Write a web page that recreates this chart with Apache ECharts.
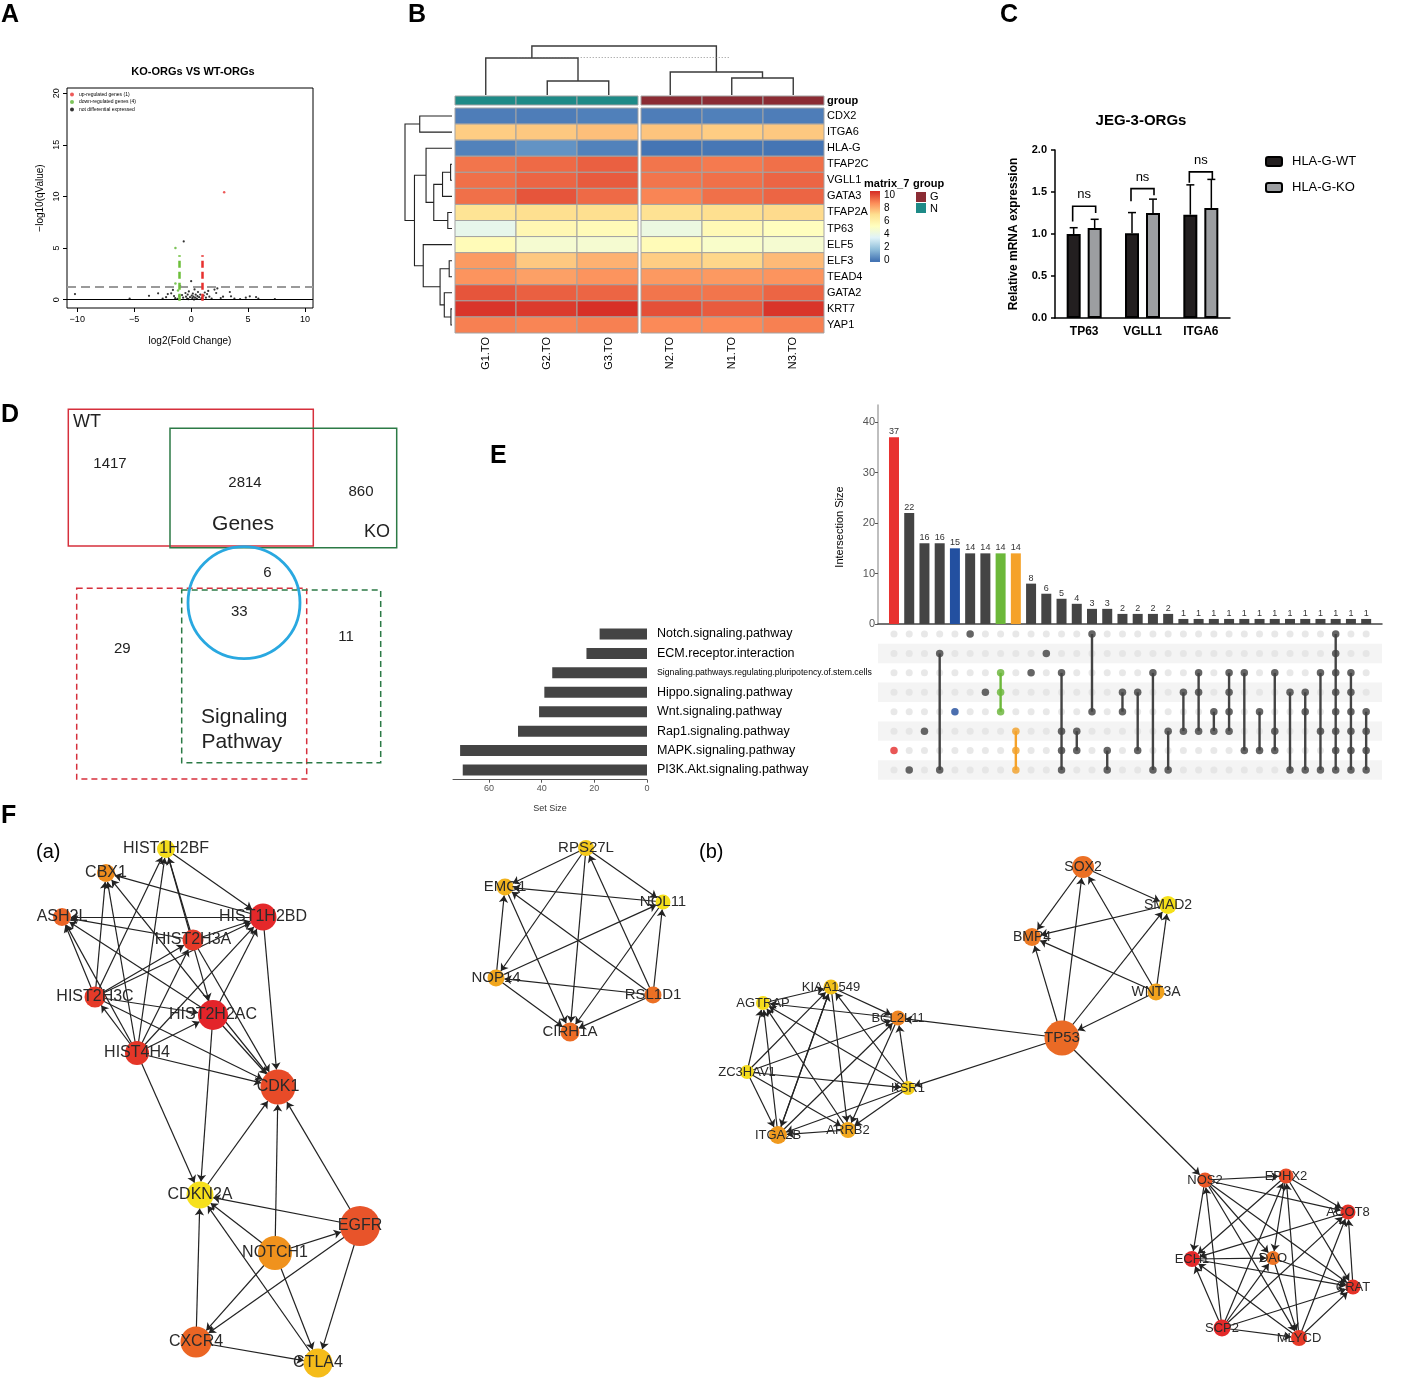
<!DOCTYPE html>
<html>
<head>
<meta charset="utf-8">
<script src="https://cdn.jsdelivr.net/npm/echarts@6.0.0/dist/echarts.min.js"></script>
<style>
html,body{margin:0;padding:0;background:#ffffff;}
#chart{width:1417px;height:1397px;}
</style>
</head>
<body>
<div id="chart"></div>
<script>
// ================= DATA =================
// ---- Panel A: volcano plot ----
const volcanoUp = [[2.9, 10.4]];
const volcanoDown = [[-1.38, 5.0], [-1.38, 1.57], [-1.15, 0.9], [-1.05, 0.35]];
const volcanoNot = [[-10.2,0.55],[-5.4,0.12],[-3.7,0.38],[-2.9,0.62],[-2.2,0.25],[-2.05,0.55],[-1.75,0.62],[-1.6,0.95],[-1.5,0.35],[-1.4,0.15],
  [-0.95,1.3],[-0.8,0.45],[-0.7,0.2],[-0.65,5.65],[-0.5,0.65],[-0.45,0.3],[-0.35,0.1],[-0.3,0.5],[-0.2,0.8],[-0.1,0.25],
  [0,1.8],[0.05,0.4],[0.1,0.15],[0.15,0.6],[0.2,0.3],[0.3,1.0],[0.35,0.2],[0.4,0.5],[0.5,0.1],[0.55,0.35],
  [0.6,0.75],[0.7,0.25],[0.8,0.5],[0.9,0.15],[1.1,0.4],[1.2,0.7],[1.3,0.2],[1.4,0.55],[1.5,0.85],[1.6,0.3],
  [1.8,0.1],[2.05,0.98],[2.2,0.65],[2.3,1.1],[2.6,0.16],[2.8,0.3],[3.4,0.75],[3.5,0.33],[3.8,0.1],[4.3,0.07],
  [4.8,0.2],[5.15,0.33],[5.7,0.26],[5.9,0.1],[7.35,0.07],[-0.25,0.05],[0.25,0.02],[-1.2,0.08],[1.0,0.05],[-2.5,0.1]];
const volcanoTicksX = [-10, -5, 0, 5, 10];
const volcanoTicksY = [0, 5, 10, 15, 20];
const volcanoNames = ['up-regulated genes (1)', 'down-regulated genes (4)', 'not differential expressed'];

// ---- Panel B: heatmap ----
const heatCols = ['G1.TO','G2.TO','G3.TO','N2.TO','N1.TO','N3.TO'];
const heatGroups = ['N','N','N','G','G','G'];
const heatRows = ['CDX2','ITGA6','HLA-G','TFAP2C','VGLL1','GATA3','TFAP2A','TP63','ELF5','ELF3','TEAD4','GATA2','KRT7','YAP1'];
const heatValues = [
  [0.2,0.2,0.25,0.2,0.25,0.2],
  [7.4,7.5,7.7,7.6,7.4,7.5],
  [0.3,0.7,0.3,0.0,0.05,0.0],
  [9.2,9.4,9.6,9.2,9.1,9.3],
  [9.3,9.5,9.7,9.2,9.3,9.5],
  [9.3,9.8,9.4,8.9,9.3,9.5],
  [6.8,7.0,7.0,6.9,7.0,7.1],
  [3.9,5.7,5.5,4.2,5.6,5.3],
  [5.5,4.7,4.7,5.5,4.9,4.7],
  [8.45,7.5,8.0,7.4,7.2,7.8],
  [8.6,8.35,8.6,8.5,8.5,8.6],
  [9.8,9.6,9.5,9.2,9.2,9.5],
  [10.4,10.3,10.5,9.9,9.7,10.4],
  [9.0,8.9,9.0,8.8,8.8,9.0]
];
// merges: [a, b, height]; non-negative = leaf index, negative -(k+1) = merge k
const colMerges = [[1,2,14],[0,-1,37],[4,5,17],[3,-3,23],[-2,-4,49]];
const rowMerges = [[0,1,92],[3,4,4],[-2,5,27],[6,7,12],[-3,-4,52],[2,-5,74],[9,10,8],[12,13,3],[11,-8,22],[-7,-9,34],[8,-10,82],[-6,-11,107],[-1,-12,134]];
const colorbarTicks = [0,2,4,6,8,10];
const groupLegend = ['G','N'];

// ---- Panel C: qPCR ----
const qpcrGenes = ['TP63','VGLL1','ITGA6'];
const wtMean = [1.00, 1.01, 1.23];
const wtSd = [0.075, 0.245, 0.355];
const koMean = [1.07, 1.25, 1.31];
const koSd = [0.105, 0.165, 0.34];
const nsBrackets = [[0,1.15,1.25,1.33],[1,1.39,1.46,1.54],[2,1.61,1.65,1.74]];
const nsLabels = ['ns','ns','ns'];

// ---- Panel D: Venn counts ----
const vennCounts = { wtOnly: '1417', both: '2814', koOnly: '860', circleTop: '6', circleMid: '33', wtPath: '29', koPath: '11' };

// ---- Panel E: UpSet ----
const setNames = ['Notch.signaling.pathway','ECM.receptor.interaction','Signaling.pathways.regulating.pluripotency.of.stem.cells','Hippo.signaling.pathway','Wnt.signaling.pathway','Rap1.signaling.pathway','MAPK.signaling.pathway','PI3K.Akt.signaling.pathway'];
const setSizes = [18, 23, 36, 39, 41, 49, 71, 70];
const interSizes = [37,22,16,16,15,14,14,14,14,8,6,5,4,3,3,2,2,2,2,1,1,1,1,1,1,1,1,1,1,1,1,1];
const interSets = [[6],[7],[5],[1,7],[4],[0],[3],[2,3,4],[5,6,7],[2],[1],[2,5,6,7],[5,6],[0,4],[6,7],[3,4],[3,6],[2,7],[5,7],[3,5],[2,3,5],[4,5],[2,3,4,5],[2,6],[4,6],[2,5,6],[3,7],[3,4,7],[2,5,7],[0,1,2,3,4,5,6,7],[2,3,4,5,6,7],[4,5,6,7]];
const interTicks = [0,10,20,30,40];
const setTicks = [0,20,40,60];

// ---- Panel F: networks ----
const netNodes = ['HIST1H2BF','CBX1','ASH2L','HIST1H2BD','HIST2H3A','HIST2H3C','HIST2H2AC','HIST4H4','CDK1','CDKN2A','EGFR','NOTCH1','CXCR4','CTLA4',
  'RPS27L','EMG1','NOL11','NOP14','RSL1D1','CIRH1A',
  'SOX2','SMAD2','BMP4','WNT3A','TP53','KIAA1549','AGTRAP','BCL2L11','ZC3HAV1','KSR1','ITGA2B','ARRB2',
  'NOS2','EPHX2','ACOT8','ECH1','DAO','CRAT','SCP2','MLYCD'];
const netEdges = [
  ['HIST1H2BF','HIST1H2BD'],['HIST1H2BD','CBX1'],['HIST1H2BD','ASH2L'],['HIST1H2BD','CDK1'],['HIST2H3A','HIST1H2BD'],['HIST2H3A','ASH2L'],
  ['HIST2H3A','HIST1H2BF'],['HIST1H2BF','HIST2H2AC'],['HIST2H3A','CDK1'],['HIST2H3C','HIST1H2BF'],['HIST2H3C','CBX1'],['HIST2H3C','ASH2L'],
  ['HIST2H3C','HIST2H3A'],['HIST2H3C','HIST1H2BD'],['HIST2H3C','HIST2H2AC'],['HIST2H3C','CDK1'],['HIST4H4','HIST2H3C'],['HIST4H4','ASH2L'],
  ['HIST4H4','CBX1'],['HIST4H4','HIST1H2BF'],['HIST4H4','HIST2H3A'],['HIST4H4','HIST2H2AC'],['HIST4H4','HIST1H2BD'],['HIST4H4','CDK1'],
  ['HIST4H4','CDKN2A'],['HIST2H2AC','HIST1H2BD'],['HIST2H2AC','CDK1'],['HIST2H2AC','CDKN2A'],['HIST2H2AC','ASH2L'],['CDK1','CBX1'],
  ['CDKN2A','CDK1'],['NOTCH1','CDK1'],['EGFR','CDK1'],['EGFR','CDKN2A'],['NOTCH1','CDKN2A'],['NOTCH1','EGFR'],['NOTCH1','CXCR4'],
  ['EGFR','CXCR4'],['NOTCH1','CTLA4'],['EGFR','CTLA4'],['CTLA4','CDKN2A'],['CXCR4','CDKN2A'],['CXCR4','CTLA4'],
  ['RPS27L','EMG1'],['RPS27L','NOL11'],['RPS27L','NOP14'],['RPS27L','CIRH1A'],['NOL11','EMG1'],['NOL11','CIRH1A'],['NOP14','NOL11'],
  ['NOP14','EMG1'],['NOP14','CIRH1A'],['RSL1D1','NOP14'],['RSL1D1','EMG1'],['RSL1D1','RPS27L'],['RSL1D1','NOL11'],['RSL1D1','CIRH1A'],['EMG1','CIRH1A'],
  ['SOX2','BMP4'],['SOX2','SMAD2'],['SMAD2','BMP4'],['TP53','BMP4'],['TP53','SOX2'],['TP53','SMAD2'],['WNT3A','SOX2'],['WNT3A','SMAD2'],
  ['WNT3A','BMP4'],['WNT3A','TP53'],['TP53','BCL2L11'],['TP53','KSR1'],['TP53','NOS2'],
  ['AGTRAP','KIAA1549'],['KIAA1549','BCL2L11'],['BCL2L11','AGTRAP'],['ZC3HAV1','AGTRAP'],['ZC3HAV1','KIAA1549'],['ZC3HAV1','BCL2L11'],
  ['ZC3HAV1','ITGA2B'],['ZC3HAV1','ARRB2'],['ZC3HAV1','KSR1'],['KSR1','AGTRAP'],['KSR1','KIAA1549'],['KSR1','BCL2L11'],['KSR1','ARRB2'],
  ['KSR1','ITGA2B'],['ITGA2B','AGTRAP'],['ITGA2B','KIAA1549'],['ITGA2B','BCL2L11'],['ARRB2','ITGA2B'],['ARRB2','AGTRAP'],
  ['KIAA1549','ITGA2B'],['KIAA1549','ARRB2'],['BCL2L11','ARRB2'],
  ['NOS2','EPHX2'],['NOS2','ACOT8'],['NOS2','ECH1'],['NOS2','DAO'],['NOS2','CRAT'],['NOS2','MLYCD'],['EPHX2','ACOT8'],['EPHX2','ECH1'],
  ['EPHX2','DAO'],['EPHX2','CRAT'],['ACOT8','ECH1'],['ECH1','DAO'],['ECH1','CRAT'],['DAO','MLYCD'],['DAO','CRAT'],['SCP2','NOS2'],
  ['SCP2','ECH1'],['SCP2','EPHX2'],['SCP2','DAO'],['SCP2','ACOT8'],['SCP2','CRAT'],['SCP2','MLYCD'],['MLYCD','ECH1'],['MLYCD','ACOT8'],
  ['MLYCD','CRAT'],['MLYCD','EPHX2'],['CRAT','ACOT8']
];

// ================= LAYOUT / STYLE =================
const FONT = 'Liberation Sans';
// node layout: [x, y, diameter, color, labelSize]
const netLayout = {
  'HIST1H2BF':[166,849,18,'#f4dc1c',16],'CBX1':[106,873,18,'#ef8c1e',16],'ASH2L':[62,917,18,'#ec6425',16],
  'HIST1H2BD':[263,917,27,'#e4282a',16],'HIST2H3A':[193,940,21,'#e53a28',16],'HIST2H3C':[95,997,21,'#e53a28',16],
  'HIST2H2AC':[213,1015,30,'#e3242a',16],'HIST4H4':[137,1053,24,'#e53628',16],'CDK1':[278,1087,35,'#e84b28',16],
  'CDKN2A':[200,1195,27,'#f6e01b',16],'EGFR':[360,1226,40,'#e8542a',16],'NOTCH1':[275,1253,34,'#f0921d',16],
  'CXCR4':[196,1342,31,'#eb6524',16],'CTLA4':[318,1363,29,'#f5bc1a',16],
  'RPS27L':[586,848,16,'#f4c81b',15],'EMG1':[505,887,17,'#f2b31d',15],'NOL11':[663,902,15,'#f5df1b',15],
  'NOP14':[496,978,17,'#f1a61d',15],'RSL1D1':[653,995,17,'#ec7024',15],'CIRH1A':[570,1032,19,'#ec6c24',15],
  'SOX2':[1083,867,22,'#ec7024',14],'SMAD2':[1168,905,18,'#f5e01a',14],'BMP4':[1032,937,18,'#ec7a24',14],
  'WNT3A':[1156,992,17,'#f0a21d',14],'TP53':[1062,1038,35,'#ea6a25',15],'KIAA1549':[831,987,15,'#f3c21b',13],
  'AGTRAP':[763,1003,14,'#f5dc1b',13],'BCL2L11':[898,1018,15,'#ee8423',13],'ZC3HAV1':[747,1072,14,'#f5dc1b',13],
  'KSR1':[908,1088,14,'#f5d01b',13],'ITGA2B':[778,1135,18,'#f09a1e',13],'ARRB2':[848,1130,16,'#f2a81d',13],
  'NOS2':[1205,1180,15,'#eb5826',13],'EPHX2':[1286,1176,15,'#ea4c27',13],'ACOT8':[1348,1212,15,'#e53227',13],
  'ECH1':[1192,1259,16,'#e4282a',13],'DAO':[1273,1258,14,'#ee7424',13],'CRAT':[1353,1287,15,'#e53227',13],
  'SCP2':[1222,1328,17,'#e42a2a',13],'MLYCD':[1299,1338,16,'#e73a28',13]
};
const heatPalette = ['#4575B4','#91BFDB','#E0F3F8','#FFFFBF','#FEE090','#FC8D59','#D73027'];
const groupColors = { G: '#8b2c34', N: '#1e8a87' };
const upsetHighlight = { 0: '#e8312f', 4: '#2350a0', 7: '#6cb83a', 8: '#f5a229' };

// ================= BUILD =================
const chart = echarts.init(document.getElementById('chart'), null, { renderer: 'canvas', width: 1417, height: 1397 });

function buildDendro(merges) {
  const pos = [], ht = [], segs = [];
  merges.forEach(([a, b, h], k) => {
    const pa = a >= 0 ? a : pos[-a - 1], ha = a >= 0 ? 0 : ht[-a - 1];
    const pb = b >= 0 ? b : pos[-b - 1], hb = b >= 0 ? 0 : ht[-b - 1];
    segs.push([pa, ha, pb, hb, h]);
    pos[k] = (pa + pb) / 2; ht[k] = h;
  });
  return segs;
}
const colSegs = buildDendro(colMerges);
const rowSegs = buildDendro(rowMerges);

const heatData = [];
heatValues.forEach((row, r) => row.forEach((v, c) => heatData.push([c, r, v])));

function cellRect(api, c, r) {
  const p = api.coord([c, r]); const s = api.size([1, 1]);
  const gap = 3, n = heatCols.length;
  const w = (s[0] * n - gap) / n;
  const left0 = p[0] - s[0] * (c + 0.5);
  const x0 = left0 + c * w + (c >= 3 ? gap : 0);
  return { x: x0, y: p[1] - s[1] / 2, width: w, height: s[1] };
}

const fmtMinus = v => String(v).replace('-', '\u2212');
const noZero = { onZero: false };

const grids = [
  { left: 67, top: 88, width: 246, height: 220, show: true, borderColor: '#000', borderWidth: 1 }, // 0 A
  { left: 455, top: 108, width: 369, height: 225 },   // 1 heatmap
  { left: 455, top: 96, width: 369, height: 9 },      // 2 group bar
  { left: 455, top: 46, width: 369, height: 49 },     // 3 col dendro
  { left: 405, top: 108, width: 47, height: 225 },    // 4 row dendro
  { left: 870, top: 191, width: 10, height: 71 },     // 5 colorbar
  { left: 1055, top: 150, width: 175, height: 168 },  // 6 C
  { left: 878, top: 405, width: 504, height: 219 },   // 7 E intersections
  { left: 878, top: 624.3, width: 504, height: 155.4 }, // 8 E matrix
  { left: 453, top: 624.3, width: 194, height: 155.4 }, // 9 E set sizes
  { left: 0, top: 0, width: 1417, height: 1397 }      // 10 F networks
];

const hidden = (gi, extra) => Object.assign({ gridIndex: gi, show: false, axisLine: { onZero: false } }, extra);

const xAxes = [
  { gridIndex: 0, type: 'value', min: -10.9, max: 10.7, axisLine: { show: false, onZero: false }, splitLine: { show: false },
    axisTick: { show: true, customValues: volcanoTicksX, length: 4, lineStyle: { color: '#000' } },
    axisLabel: { customValues: volcanoTicksX, fontSize: 9, color: '#000', margin: 7, formatter: fmtMinus },
    name: 'log2(Fold Change)', nameLocation: 'middle', nameGap: 28, nameTextStyle: { fontSize: 10, color: '#000' } },
  { gridIndex: 1, type: 'category', data: heatCols, axisLine: { show: false }, axisTick: { show: false },
    axisLabel: { rotate: 90, fontSize: 11, color: '#000', margin: 4 } },
  hidden(2, { type: 'category', data: heatCols }),
  hidden(3, { type: 'value', min: -0.5, max: 5.5 }),
  hidden(4, { type: 'value', min: 0, max: 134, inverse: true }),
  hidden(5, { type: 'value', min: 0, max: 1 }),
  { gridIndex: 6, type: 'category', data: qpcrGenes, axisLine: { lineStyle: { color: '#000', width: 1.5 } },
    axisTick: { alignWithLabel: true, length: 4, lineStyle: { color: '#000', width: 1.5 } },
    axisLabel: { fontSize: 12, fontWeight: 'bold', color: '#000', margin: 8 } },
  { gridIndex: 7, type: 'value', min: -1.05, max: 32.04, axisLine: { show: true, onZero: false, lineStyle: { color: '#444', width: 1.5 } },
    axisTick: { show: false }, axisLabel: { show: false }, splitLine: { show: false } },
  hidden(8, { type: 'value', min: -1.05, max: 32.04 }),
  { gridIndex: 9, type: 'value', min: 0, max: 73.7, inverse: true, axisLine: { show: true, onZero: false, lineStyle: { color: '#555', width: 1 } },
    axisTick: { show: true, customValues: setTicks, length: 3, lineStyle: { color: '#555' } },
    axisLabel: { customValues: setTicks, fontSize: 9, color: '#555', margin: 4 }, splitLine: { show: false },
    name: 'Set Size', nameLocation: 'middle', nameGap: 24, nameTextStyle: { fontSize: 9, color: '#333' } },
  hidden(10, { type: 'value', min: 0, max: 1417 })
];

const yAxes = [
  { gridIndex: 0, type: 'value', min: -0.8, max: 20.5, axisLine: { show: false, onZero: false }, splitLine: { show: false },
    axisTick: { show: true, customValues: volcanoTicksY, length: 4, lineStyle: { color: '#000' } },
    axisLabel: { customValues: volcanoTicksY, fontSize: 9, color: '#000', rotate: 90, margin: 6 },
    name: '\u2212log10(qValue)', nameLocation: 'middle', nameGap: 22, nameTextStyle: { fontSize: 10, color: '#000' } },
  { gridIndex: 1, type: 'category', data: heatRows, inverse: true, position: 'right', axisLine: { show: false }, axisTick: { show: false },
    axisLabel: { fontSize: 11, color: '#000', margin: 3 } },
  { gridIndex: 2, type: 'category', data: ['group'], position: 'right', axisLine: { show: false }, axisTick: { show: false },
    axisLabel: { fontSize: 11, fontWeight: 'bold', color: '#000', margin: 3 } },
  hidden(3, { type: 'value', min: 0, max: 49 }),
  hidden(4, { type: 'value', min: -0.5, max: heatRows.length - 0.5, inverse: true }),
  { gridIndex: 5, type: 'value', min: -0.2, max: 10.6, position: 'right', axisLine: { show: false, onZero: false }, splitLine: { show: false },
    axisTick: { show: true, inside: true, customValues: colorbarTicks, length: 3, lineStyle: { color: '#fff', width: 1 } },
    axisLabel: { customValues: colorbarTicks, fontSize: 10, color: '#000', margin: 4 } },
  { gridIndex: 6, type: 'value', min: 0, max: 2, interval: 0.5, axisLine: { show: true, onZero: false, lineStyle: { color: '#000', width: 1.5 } },
    axisTick: { show: true, length: 4, lineStyle: { color: '#000', width: 1.5 } }, splitLine: { show: false },
    axisLabel: { fontSize: 11, fontWeight: 'bold', color: '#000', formatter: v => v.toFixed(1) },
    name: 'Relative mRNA expression', nameLocation: 'middle', nameGap: 35, nameTextStyle: { fontSize: 12, fontWeight: 'bold', color: '#000' } },
  { gridIndex: 7, type: 'value', min: 0, max: 43.4, axisLine: { show: true, onZero: false, lineStyle: { color: '#aaa', width: 1.5 } }, splitLine: { show: false },
    axisTick: { show: true, customValues: interTicks, length: 3, lineStyle: { color: '#555' } },
    axisLabel: { customValues: interTicks, fontSize: 11, color: '#555', margin: 3 } },
  hidden(8, { type: 'value', min: -0.5, max: 7.5, inverse: true }),
  { gridIndex: 9, type: 'category', data: setNames, inverse: true, position: 'right', axisLine: { show: false }, axisTick: { show: false },
    axisLabel: { fontSize: 12.5, color: '#000', margin: 10, align: 'left',
      formatter: (v, i) => (i === 2 ? '{s|' + v + '}' : v), rich: { s: { fontSize: 8.7, color: '#000', fontFamily: FONT } } } },
  hidden(10, { type: 'value', min: 0, max: 1397, inverse: true })
];

const series = [];
// ---- A
series.push({ name: volcanoNames[2], type: 'scatter', xAxisIndex: 0, yAxisIndex: 0, data: volcanoNot, symbolSize: 2.2,
  itemStyle: { color: '#000' }, z: 3,
  markLine: { silent: true, symbol: 'none', label: { show: false }, animation: false,
    data: [
      { yAxis: 0, lineStyle: { type: 'solid', color: '#000', width: 1 } },
      { yAxis: 1.3, lineStyle: { type: [9, 5], color: '#9a9a9a', width: 2.2 } },
      [{ coord: [-1, -0.1], lineStyle: { type: [7, 4], color: '#6cbf3a', width: 2.5 } }, { coord: [-1, 4.3] }],
      [{ coord: [1, -0.1], lineStyle: { type: [7, 4], color: '#e8312f', width: 2.5 } }, { coord: [1, 4.3] }]
    ] } });
series.push({ name: volcanoNames[1], type: 'scatter', xAxisIndex: 0, yAxisIndex: 0, data: volcanoDown, symbolSize: 2.5, itemStyle: { color: '#5cb531' }, z: 4 });
series.push({ name: volcanoNames[0], type: 'scatter', xAxisIndex: 0, yAxisIndex: 0, data: volcanoUp, symbolSize: 2.5, itemStyle: { color: '#e8312f' }, z: 4 });

// ---- B heatmap
const heatSeriesIndex = series.length;
series.push({ type: 'custom', xAxisIndex: 1, yAxisIndex: 1, data: heatData,
  renderItem: (p, api) => ({ type: 'rect', shape: cellRect(api, api.value(0), api.value(1)),
    style: { fill: api.visual('color'), stroke: '#a3a3a3', lineWidth: 1 } }) });
series.push({ type: 'custom', xAxisIndex: 2, yAxisIndex: 2, data: heatGroups.map((g, c) => [c, 0, g]),
  renderItem: (p, api) => ({ type: 'rect', shape: cellRect(api, api.value(0), 0),
    style: { fill: groupColors[heatGroups[api.value(0)]], stroke: '#a3a3a3', lineWidth: 1 } }) });
series.push({ type: 'custom', xAxisIndex: 3, yAxisIndex: 3, data: colSegs,
  renderItem: (p, api) => {
    const x1 = api.value(0), h1 = api.value(1), x2 = api.value(2), h2 = api.value(3), h = api.value(4);
    return { type: 'polyline', shape: { points: [api.coord([x1, h1]), api.coord([x1, h]), api.coord([x2, h]), api.coord([x2, h2])] },
      style: { stroke: '#3a3a3a', lineWidth: 1.4, fill: 'none' } };
  },
  markLine: { silent: true, symbol: 'none', label: { show: false }, lineStyle: { type: [1, 2], color: '#777', width: 0.8 },
    data: [[{ coord: [0.52, 38] }, { coord: [3.97, 38] }]] } });
series.push({ type: 'custom', xAxisIndex: 4, yAxisIndex: 4, data: rowSegs,
  renderItem: (p, api) => {
    const y1 = api.value(0), h1 = api.value(1), y2 = api.value(2), h2 = api.value(3), h = api.value(4);
    return { type: 'polyline', shape: { points: [api.coord([h1, y1]), api.coord([h, y1]), api.coord([h, y2]), api.coord([h2, y2])] },
      style: { stroke: '#222', lineWidth: 1.1, fill: 'none' } };
  } });
series.push({ type: 'custom', xAxisIndex: 5, yAxisIndex: 5, data: [[0, 0]],
  renderItem: (p, api) => {
    const lo = -0.2, hi = 10.6, vmax = 10.5;
    const tl = api.coord([0, hi]), br = api.coord([1, lo]);
    const stops = heatPalette.map((c, i) => ({ offset: Math.min(1, (i * vmax / 6 - lo) / (hi - lo)), color: c }));
    stops.unshift({ offset: 0, color: heatPalette[0] });
    return { type: 'rect', shape: { x: tl[0], y: tl[1], width: br[0] - tl[0], height: br[1] - tl[1] },
      style: { fill: new echarts.graphic.LinearGradient(0, 1, 0, 0, stops) } };
  } });

// ---- C
series.push({ name: 'HLA-G-WT', type: 'bar', xAxisIndex: 6, yAxisIndex: 6, data: wtMean, barWidth: 14, barGap: '50%',
  itemStyle: { color: '#231f20', borderColor: '#000', borderWidth: 2 } });
series.push({ name: 'HLA-G-KO', type: 'bar', xAxisIndex: 6, yAxisIndex: 6, data: koMean, barWidth: 14, barGap: '50%',
  itemStyle: { color: '#9c9ea1', borderColor: '#000', borderWidth: 2 } });
const errData = [];
qpcrGenes.forEach((g, c) => { errData.push([c, wtMean[c], wtSd[c], -1]); errData.push([c, koMean[c], koSd[c], 1]); });
series.push({ type: 'custom', xAxisIndex: 6, yAxisIndex: 6, data: errData, z: 3,
  renderItem: (p, api) => {
    const c = api.value(0), m = api.value(1), sd = api.value(2), side = api.value(3);
    const a = api.coord([c, m]), b = api.coord([c, m + sd]); const x = a[0] + side * 10.5;
    return { type: 'group', children: [
      { type: 'line', shape: { x1: x, y1: a[1], x2: x, y2: b[1] }, style: { stroke: '#000', lineWidth: 1.5 } },
      { type: 'line', shape: { x1: x - 4, y1: b[1], x2: x + 4, y2: b[1] }, style: { stroke: '#000', lineWidth: 1.5 } } ] };
  } });
series.push({ type: 'custom', xAxisIndex: 6, yAxisIndex: 6, data: nsBrackets, z: 3,
  renderItem: (p, api) => {
    const c = api.value(0), lb = api.value(1), rb = api.value(2), top = api.value(3);
    const t = api.coord([c, top]), l = api.coord([c, lb]), r = api.coord([c, rb]); const hw = 11.5;
    return { type: 'group', children: [
      { type: 'polyline', shape: { points: [[t[0] - hw, l[1]], [t[0] - hw, t[1]], [t[0] + hw, t[1]], [t[0] + hw, r[1]]] },
        style: { stroke: '#000', lineWidth: 1.6, fill: 'none' } },
      { type: 'text', style: { text: nsLabels[p.dataIndex], x: t[0], y: t[1] - 5, align: 'center', verticalAlign: 'bottom',
        fontSize: 13, fontFamily: FONT, fill: '#000' } } ] };
  } });

// ---- E
const colColor = i => upsetHighlight[i] || '#444444';
series.push({ type: 'bar', xAxisIndex: 7, yAxisIndex: 7, barWidth: 10,
  data: interSizes.map((v, i) => ({ value: [i, v], itemStyle: { color: colColor(i) } })),
  label: { show: true, position: 'top', fontSize: 9, color: '#333', distance: 1, formatter: p => p.value[1] } });
const bgDots = [];
interSizes.forEach((v, i) => { setNames.forEach((s, r) => bgDots.push([i, r])); });
series.push({ type: 'scatter', xAxisIndex: 8, yAxisIndex: 8, data: bgDots, symbolSize: 7, itemStyle: { color: '#e2e2e2' }, z: 2,
  markArea: { silent: true, itemStyle: { color: '#f4f4f4' },
    data: [[{ yAxis: 0.5 }, { yAxis: 1.5 }], [{ yAxis: 2.5 }, { yAxis: 3.5 }], [{ yAxis: 4.5 }, { yAxis: 5.5 }], [{ yAxis: 6.5 }, { yAxis: 7.5 }]] } });
series.push({ type: 'custom', xAxisIndex: 8, yAxisIndex: 8, z: 3,
  data: interSets.map((s, i) => [i, Math.min(...s), Math.max(...s)]),
  renderItem: (p, api) => {
    const a = api.coord([api.value(0), api.value(1)]), b = api.coord([api.value(0), api.value(2)]);
    return { type: 'line', shape: { x1: a[0], y1: a[1], x2: b[0], y2: b[1] }, style: { stroke: colColor(api.value(0)), lineWidth: 2.4 } };
  } });
const activeDots = [];
interSets.forEach((s, i) => s.forEach(r => activeDots.push({ value: [i, r], itemStyle: { color: colColor(i) } })));
series.push({ type: 'scatter', xAxisIndex: 8, yAxisIndex: 8, data: activeDots, symbolSize: 7.5, z: 4 });
series.push({ type: 'bar', xAxisIndex: 9, yAxisIndex: 9, data: setSizes, barWidth: 11, itemStyle: { color: '#444' } });

// ---- F networks
series.push({ type: 'graph', layout: 'none', coordinateSystem: 'cartesian2d', xAxisIndex: 10, yAxisIndex: 10,
  edgeSymbol: ['none', 'arrow'], edgeSymbolSize: 7,
  lineStyle: { color: '#222', width: 1.2, opacity: 1, curveness: 0 },
  label: { show: true, position: 'inside', color: '#2a2a2a', fontFamily: FONT },
  data: netNodes.map(n => ({ name: n, value: [netLayout[n][0], netLayout[n][1]], symbolSize: netLayout[n][2],
    itemStyle: { color: netLayout[n][3] }, label: { fontSize: netLayout[n][4] } })),
  links: netEdges.map(([s, t]) => ({ source: s, target: t })), z: 5 });

// ---- graphics (panel letters, Venn, legends text)
const g = [];
function txt(x, y, text, size, o = {}) {
  g.push({ type: 'text', x, y, rotation: o.rot || 0, z: 20,
    style: { text, fontSize: size, fontWeight: o.bold ? 'bold' : 'normal', fontFamily: FONT, fill: o.color || '#000',
      align: o.align || 'left', verticalAlign: 'middle' } });
}
txt(1, 15, 'A', 25, { bold: true }); txt(408, 15, 'B', 25, { bold: true }); txt(1000, 15, 'C', 25, { bold: true });
txt(1, 415, 'D', 25, { bold: true }); txt(490, 456, 'E', 25, { bold: true }); txt(1, 816, 'F', 25, { bold: true });
txt(193, 72, 'KO-ORGs VS WT-ORGs', 11, { bold: true, align: 'center' });
txt(1141, 121, 'JEG-3-ORGs', 15, { bold: true, align: 'center' });
txt(864, 184, 'matrix_7', 11, { bold: true }); txt(913, 184, 'group', 11, { bold: true });
groupLegend.forEach((k, i) => {
  g.push({ type: 'rect', shape: { x: 916, y: 192 + i * 11, width: 10, height: 10 }, style: { fill: groupColors[k] }, z: 20 });
  txt(930, 197 + i * 11.5, k, 11);
});
txt(840, 527, 'Intersection Size', 11, { align: 'center', rot: Math.PI / 2 });
txt(36, 852, '(a)', 20); txt(699, 852, '(b)', 20);
// Venn panel D
const rect = (x, y, w, h, col, dash) => g.push({ type: 'rect', shape: { x, y, width: w, height: h }, z: 15,
  style: { fill: 'none', stroke: col, lineWidth: 1.5, lineDash: dash || null } });
rect(68.3, 409.3, 245, 136.7, '#d6303c');
rect(170, 428.3, 226.7, 119.4, '#2c7a46');
rect(76.7, 588.3, 230, 190.7, '#d6303c', [6, 4]);
rect(181.7, 590, 199, 172.7, '#2c7a46', [6, 4]);
g.push({ type: 'circle', shape: { cx: 244, cy: 602.7, r: 56 }, z: 16, style: { fill: 'none', stroke: '#29a8e0', lineWidth: 2.8 } });
txt(87, 422, 'WT', 18, { align: 'center', color: '#222' });
txt(110, 464.3, vennCounts.wtOnly, 15, { align: 'center', color: '#222' });
txt(245, 482.7, vennCounts.both, 15, { align: 'center', color: '#222' });
txt(361, 491.7, vennCounts.koOnly, 15, { align: 'center', color: '#222' });
txt(243, 524, 'Genes', 21, { align: 'center', color: '#222' });
txt(377, 532, 'KO', 18, { align: 'center', color: '#222' });
txt(267.3, 573.3, vennCounts.circleTop, 15, { align: 'center', color: '#222' });
txt(239.3, 611.7, vennCounts.circleMid, 15, { align: 'center', color: '#222' });
txt(122.3, 649.3, vennCounts.wtPath, 15, { align: 'center', color: '#222' });
txt(346, 637.3, vennCounts.koPath, 15, { align: 'center', color: '#222' });
txt(244.3, 717.3, 'Signaling', 21, { align: 'center', color: '#222' });
txt(241.7, 742.3, 'Pathway', 21, { align: 'center', color: '#222' });

const option = {
  animation: false,
  backgroundColor: '#ffffff',
  textStyle: { fontFamily: FONT },
  grid: grids,
  xAxis: xAxes,
  yAxis: yAxes,
  visualMap: [{ type: 'continuous', show: false, min: 0, max: 10.5, dimension: 2, seriesIndex: heatSeriesIndex,
    inRange: { color: heatPalette } }],
  legend: [
    { data: [volcanoNames[0], volcanoNames[1], volcanoNames[2]], left: 70, top: 92, orient: 'vertical', itemWidth: 4, itemHeight: 4,
      itemGap: 2.5, icon: 'circle', padding: 0, selectedMode: false, textStyle: { fontSize: 5, color: '#000', fontFamily: FONT } },
    { data: ['HLA-G-WT', 'HLA-G-KO'], left: 1265, top: 155, orient: 'vertical', itemWidth: 16, itemHeight: 9, itemGap: 13,
      padding: 0, selectedMode: false, textStyle: { fontSize: 13, color: '#000', fontFamily: FONT, padding: [0, 0, 0, 5] } }
  ],
  series,
  graphic: g
};
chart.setOption(option);
</script>
</body>
</html>
